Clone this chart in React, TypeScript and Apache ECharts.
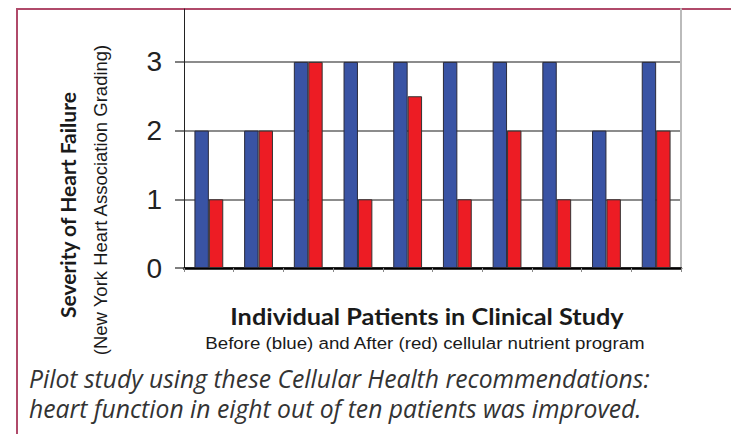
import React, { useEffect, useRef } from "react";
import * as echarts from "echarts";

const patients = ["1", "2", "3", "4", "5", "6", "7", "8", "9", "10"];
const beforeValues = [2, 2, 3, 3, 3, 3, 3, 3, 2, 3];
const afterValues = [1, 2, 3, 1, 2.5, 1, 2, 1, 1, 2];
const yTickLabels = ["0", "1", "2", "3"];

const yTitle = "Severity of Heart Failure";
const ySubTitle = "(New York Heart Association Grading)";
const xTitle = "Individual Patients in Clinical Study";
const xSubTitle = "Before (blue) and After (red) cellular nutrient program";
const captionLines = [
  "Pilot study using these Cellular Health recommendations:",
  "heart function in eight out of ten patients was improved.",
];

export default function App() {
  const ref = useRef<HTMLDivElement>(null);
  useEffect(() => {
    if (!ref.current) return;
    const chart = echarts.init(ref.current, null, { renderer: "svg" });
    const yMax = 3.77;
    chart.setOption({
      animation: false,
      backgroundColor: "#ffffff",
      grid: { left: 184, right: 50, top: 9, bottom: 166, containLabel: false },
      xAxis: {
        type: "category",
        data: patients,
        boundaryGap: true,
        axisLine: { show: true, lineStyle: { color: "#000", width: 2.5 } },
        axisTick: { show: true, length: 4, lineStyle: { color: "#888", width: 1 } },
        axisLabel: { show: false },
        splitLine: { show: false },
      },
      yAxis: [
        {
          type: "value",
          min: 0,
          max: yMax,
          interval: 1,
          axisLine: { show: true, onZero: false, lineStyle: { color: "#222", width: 1 } },
          axisTick: { show: true, length: 9, lineStyle: { color: "#555", width: 1.5 } },
          axisLabel: {
            showMaxLabel: false,
            margin: 22,
            fontSize: 28,
            fontFamily: "Liberation Sans",
            color: "#222",
            formatter: (v: number) => {
              const i = yTickLabels.indexOf(String(v));
              return i >= 0 ? yTickLabels[i] : "";
            },
          },
          splitLine: {
            show: true,
            showMaxLine: false,
            lineStyle: { color: "#666", width: 1.5 },
          },
        },
        {
          type: "value",
          min: 0,
          max: yMax,
          position: "right",
          axisLine: { show: true, lineStyle: { color: "#bbb", width: 2 } },
          axisTick: { show: false },
          axisLabel: { show: false },
          splitLine: { show: false },
        },
      ],
      series: [
        {
          name: "Before",
          type: "bar",
          data: beforeValues,
          barGap: "0%",
          barCategoryGap: "42%",
          itemStyle: { color: "#3953a4", borderColor: "#2a2a3a", borderWidth: 1 },
        },
        {
          name: "After",
          type: "bar",
          data: afterValues,
          barGap: "0%",
          barCategoryGap: "42%",
          itemStyle: { color: "#ed1c24", borderColor: "#333", borderWidth: 1 },
        },
      ],
      graphic: [
        {
          type: "rect",
          shape: { x: 17, y: 9, width: 800, height: 500 },
          style: { fill: "none", stroke: "#b04a6a", lineWidth: 2 },
          silent: true,
        },
        {
          type: "text",
          x: 67,
          y: 205,
          rotation: Math.PI / 2,
          style: {
            text: yTitle,
            fontFamily: "Lato",
            fontWeight: "bold",
            fontSize: 21,
            fill: "#1a1a1a",
            textAlign: "center",
            textVerticalAlign: "middle",
          },
        },
        {
          type: "text",
          x: 100,
          y: 200,
          rotation: Math.PI / 2,
          style: {
            text: ySubTitle,
            fontFamily: "Liberation Sans",
            fontSize: 18.5,
            fill: "#1a1a1a",
            textAlign: "center",
            textVerticalAlign: "middle",
          },
        },
        {
          type: "text",
          x: 427,
          y: 316,
          scaleX: 1.1,
          style: {
            text: xTitle,
            fontFamily: "Lato",
            fontWeight: "bold",
            fontSize: 23,
            fill: "#1a1a1a",
            textAlign: "center",
            textVerticalAlign: "middle",
          },
        },
        {
          type: "text",
          x: 425,
          y: 343,
          scaleX: 1.1,
          style: {
            text: xSubTitle,
            fontFamily: "Liberation Sans",
            fontSize: 17,
            fill: "#1a1a1a",
            textAlign: "center",
            textVerticalAlign: "middle",
          },
        },
        ...captionLines.map((line, i) => ({
          type: "text",
          x: 29,
          y: 378 + i * 30,
          style: {
            text: line,
            fontFamily: "Open Sans",
            fontStyle: "italic",
            fontSize: 24.7,
            fill: "#333",
            textAlign: "left",
            textVerticalAlign: "middle",
          },
        })),
      ],
    });
    return () => chart.dispose();
  }, []);
  return (
    <div
      ref={ref}
      style={{ position: "absolute", left: 0, top: 0, width: 731, height: 434, background: "#fff" }}
    />
  );
}
